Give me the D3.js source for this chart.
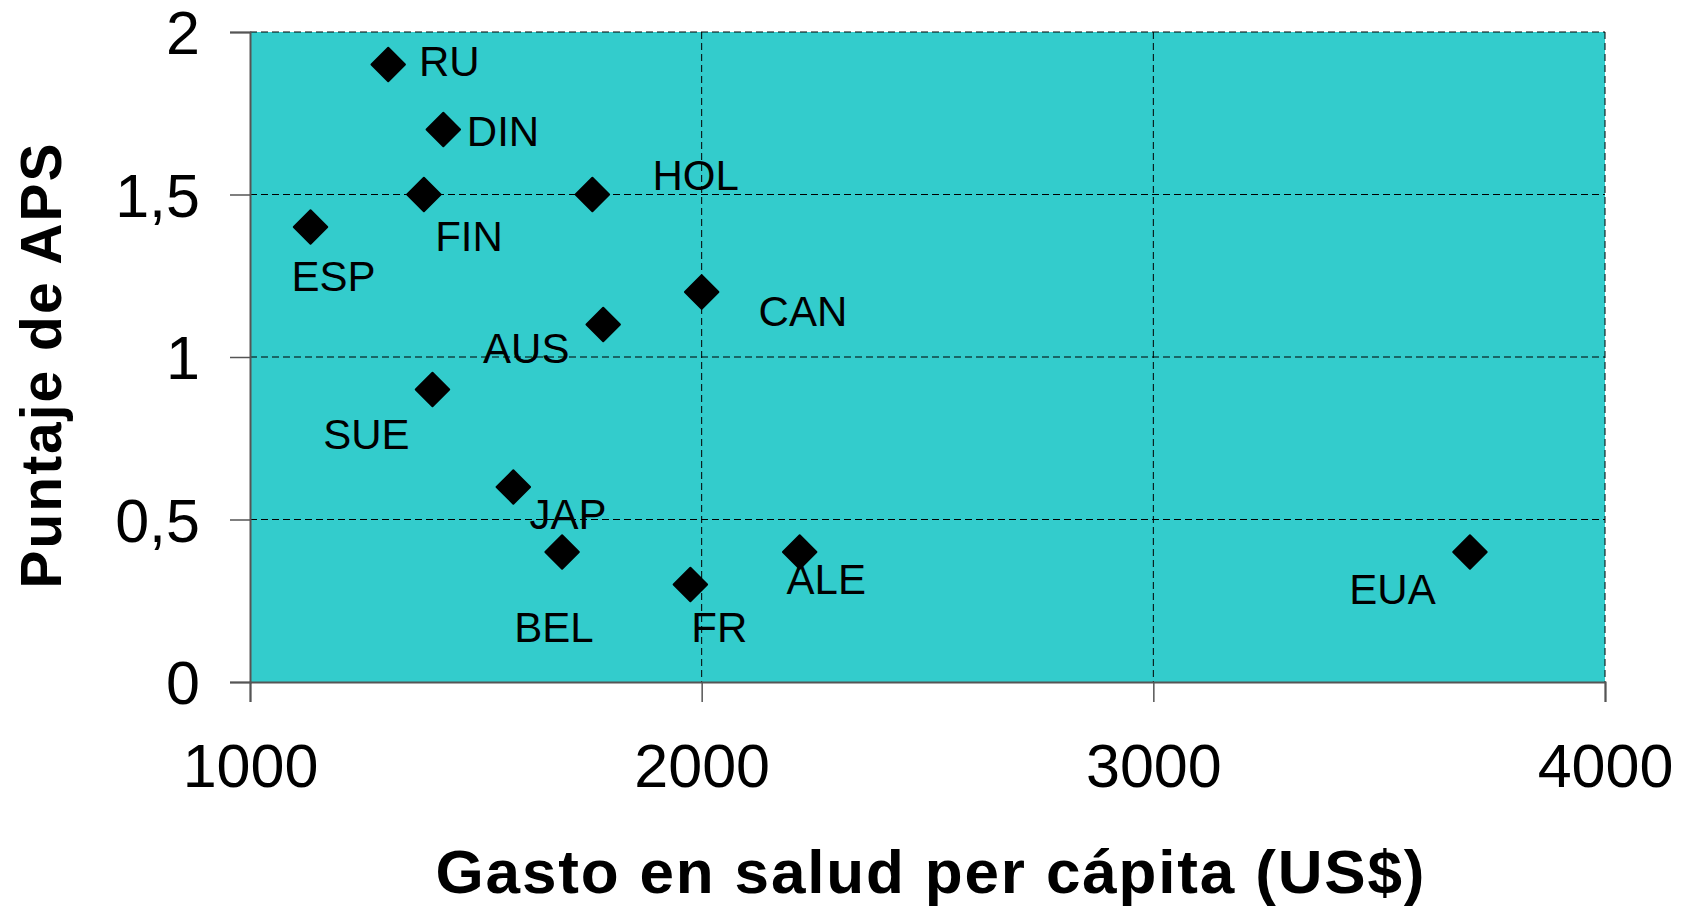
<!DOCTYPE html>
<html lang="es">
<meta charset="UTF-8">
<title>Puntaje de APS vs gasto en salud</title>
<style>
  body { margin: 0; background: #fff; }
  svg text { font-family: "Liberation Sans", Arial, sans-serif; fill: #000; }
</style>
<script src="https://d3js.org/d3.v7.min.js"></script>
<body>
<div id="chart"></div>
<script>

// data
var paises  = ["RU", "DIN", "FIN", "HOL", "ESP", "CAN", "AUS", "SUE", "JAP", "BEL", "FR", "ALE", "EUA"];
var gasto   = [1306, 1428, 1385, 1758, 1134, 2000, 1782, 1404, 1583, 1691, 1975, 2217, 3701];
var puntaje = [1.9, 1.7, 1.5, 1.5, 1.4, 1.2, 1.1, 0.9, 0.6, 0.4, 0.3, 0.4, 0.4];

// where each label sits, in data units
var labelGasto   = [1374, 1480, 1410, 1891, 1092, 2126, 1516, 1162, 1619, 1585, 1977, 2188, 3434];
var labelPuntaje = [1.912, 1.696, 1.374, 1.56, 1.251, 1.142, 1.028, 0.762, 0.517, 0.169, 0.169, 0.317, 0.287];

var xTicks = [1000, 2000, 3000, 4000];
var yTicks = [0, 0.5, 1, 1.5, 2];

var W = 1694, H = 910;
var margin = {top: 32, right: 89, bottom: 228, left: 250},
    width = W - margin.left - margin.right,
    height = H - margin.top - margin.bottom;

var svg = d3.select("#chart").append("svg")
    .attr("width", W)
    .attr("height", H);

var g = svg.append("g")
    .attr("transform", "translate(" + margin.left + "," + margin.top + ")");

var x = d3.scaleLinear().domain([1000, 4000]).range([0, width]);
var y = d3.scaleLinear().domain([0, 2]).range([height, 0]);

// plot background
g.append("rect")
    .attr("width", width)
    .attr("height", height)
    .style("fill", "#33cccc");

// dashed grid
g.selectAll(".hgrid")
    .data(yTicks.filter(function(d) { return d > 0; }))
    .enter().append("line")
      .attr("x1", 0).attr("x2", width)
      .attr("y1", function(d) { return y(d); })
      .attr("y2", function(d) { return y(d); })
      .style("stroke", "#000")
      .style("stroke-width", 1)
      .style("stroke-dasharray", "7,4");

g.selectAll(".vgrid")
    .data(xTicks.filter(function(d) { return d > 1000; }))
    .enter().append("line")
      .attr("x1", function(d) { return x(d); })
      .attr("x2", function(d) { return x(d); })
      .attr("y1", 0).attr("y2", height)
      .style("stroke", "#000")
      .style("stroke-width", 1)
      .style("stroke-dasharray", "7,4");

var fmt = function(d) { return String(d).replace(".", ","); };

// axes
var xAxis = g.append("g")
    .attr("transform", "translate(0," + height + ")")
    .call(d3.axisBottom(x).tickValues(xTicks).tickSize(20).tickPadding(42).tickFormat(d3.format("d")));

var yAxis = g.append("g")
    .call(d3.axisLeft(y).tickValues(yTicks).tickSize(20).tickPadding(30).tickFormat(fmt));

[xAxis, yAxis].forEach(function(a) {
  a.select(".domain").style("stroke", "#555").style("stroke-width", 2);
  a.selectAll(".tick line").style("stroke", "#555").style("stroke-width", 1.5);
  a.selectAll(".tick text").style("font-size", "61px").style("fill", "#000");
});
xAxis.selectAll(".tick text").attr("dy", "0.71em");
yAxis.selectAll(".tick text").attr("dy", "0.36em");

// markers
var diamond = d3.symbol().type(d3.symbolSquare).size(560);
g.selectAll(".pt")
    .data(paises)
    .enter().append("path")
      .attr("d", diamond)
      .attr("transform", function(d, i) {
        return "translate(" + x(gasto[i]) + "," + y(puntaje[i]) + ") rotate(45)";
      })
      .style("fill", "#000")
      .style("stroke", "#000")
      .style("stroke-width", 2)
      .style("stroke-linejoin", "round");

// point labels
g.selectAll(".lbl")
    .data(paises)
    .enter().append("text")
      .attr("x", function(d, i) { return x(labelGasto[i]); })
      .attr("y", function(d, i) { return y(labelPuntaje[i]); })
      .attr("dy", "0.36em")
      .style("font-size", "42px")
      .text(function(d) { return d; });

// axis titles
svg.append("text")
    .attr("x", 930)
    .attr("y", 893)
    .attr("text-anchor", "middle")
    .attr("textLength", 989)
    .attr("lengthAdjust", "spacing")
    .style("font-size", "62px")
    .style("font-weight", "bold")
    .text("Gasto en salud per cápita (US$)");

svg.append("text")
    .attr("transform", "translate(40,366) rotate(-90)")
    .attr("dy", "0.36em")
    .attr("text-anchor", "middle")
    .attr("textLength", 445)
    .attr("lengthAdjust", "spacing")
    .style("font-size", "57px")
    .style("font-weight", "bold")
    .text("Puntaje de APS");

</script>
</body>
</html>
